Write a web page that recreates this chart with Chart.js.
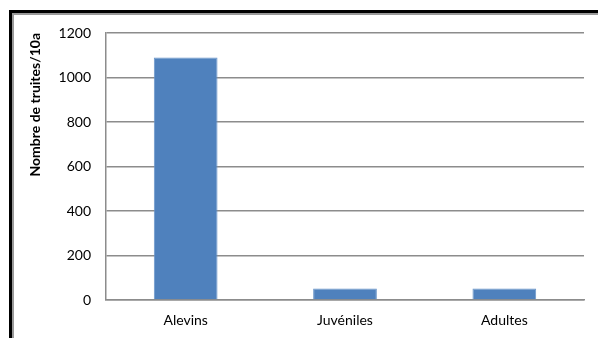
<!DOCTYPE html>
<html>
<head>
<meta charset="utf-8">
<script src="https://cdn.jsdelivr.net/npm/chart.js@4"></script>
<style>
  html, body { margin: 0; padding: 0; background: #fff; }
  #wrap { position: relative; width: 598px; height: 338px; }
  #frame {
    position: absolute; left: 9px; top: 10px; right: -10px; bottom: -10px;
    border-top: 3px solid #000; border-left: 3px solid #000;
  }
  #frame div {
    position: absolute; left: 0; top: 0; right: 0; bottom: 0;
    border-top: 2px solid #9a9a9a; border-left: 2px solid #9a9a9a;
  }
  canvas { position: absolute; left: 0; top: 0; }
</style>
</head>
<body>
<div id="wrap">
  <div id="frame"><div></div></div>
  <canvas id="barCanvas" width="598" height="338"></canvas>
</div>
<script>
const stades = ["Alevins", "Juvéniles", "Adultes"];
const nbrTruites = [1090, 52, 52];
const yTicks = [0, 200, 400, 600, 800, 1000, 1200];

const font = "Lato, 'Open Sans', sans-serif";

const barCanvas = document.getElementById("barCanvas");

const barChart = new Chart(barCanvas, {
    type: "bar",
    data: {
        labels: stades,
        datasets: [{
            data: nbrTruites,
            backgroundColor: "#4f81bd",
            borderColor: "#6a95c9",
            borderWidth: 1,
            categoryPercentage: 1,
            barPercentage: 0.4
        }]
    },
    options: {
        responsive: false,
        animation: false,
        layout: {
            padding: { top: 33, right: 14, bottom: 0, left: 0 }
        },
        plugins: {
            legend: { display: false },
            tooltip: { enabled: false }
        },
        scales: {
            y: {
                min: 0,
                max: 1200,
                afterBuildTicks: (scale) => {
                    scale.ticks = yTicks.map(v => ({ value: v }));
                },
                afterFit: (scale) => { scale.width = 106; },
                ticks: {
                    color: "#000",
                    padding: 15,
                    callback: (v) => String(v),
                    font: { family: font, size: 14 }
                },
                grid: {
                    color: "#8c8c8c",
                    lineWidth: 1.5,
                    drawTicks: false
                },
                border: { color: "#8c8c8c", width: 1.5 },
                title: {
                    display: true,
                    text: "Nombre de truites/10a",
                    align: "end",
                    color: "#000",
                    padding: { top: 27, bottom: 0 },
                    font: { family: font, size: 14, weight: "bold" }
                }
            },
            x: {
                afterFit: (scale) => { scale.height = 38; },
                ticks: {
                    color: "#000",
                    padding: 12,
                    font: { family: font, size: 14 }
                },
                grid: { display: false, drawTicks: false },
                border: { color: "#8c8c8c", width: 1.5 }
            }
        }
    }
});
</script>
</body>
</html>
